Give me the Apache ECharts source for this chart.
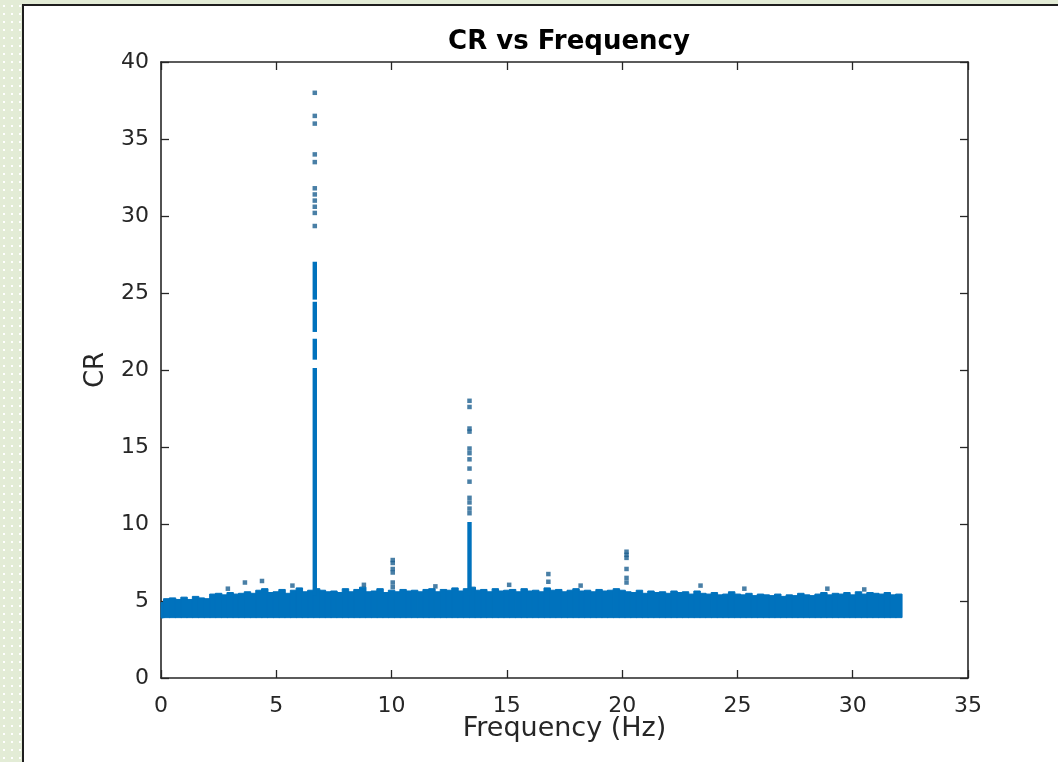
<!DOCTYPE html>
<html>
<head>
<meta charset="utf-8">
<script src="https://cdn.jsdelivr.net/npm/echarts@6/dist/echarts.min.js"></script>
<style>
  html, body { margin:0; padding:0; width:1058px; height:762px; overflow:hidden; }
  body {
    background-color:#e3ecd6;
    background-image: radial-gradient(circle, #ffffff 0.8px, transparent 1.2px);
    background-size: 8px 8px;
    background-position: 0 2px;
  }
  #panel { position:absolute; left:22px; top:4px; right:-4px; bottom:-4px; background:#ffffff; border-left:2px solid #1e1e1e; border-top:2px solid #1e1e1e; }
  #chart { position:absolute; left:0; top:0; width:1058px; height:762px; }
</style>
</head>
<body>
<div id="panel"></div>
<div id="chart"></div>
<script>
// ---- data ----
const xTicks = [0, 5, 10, 15, 20, 25, 30, 35];
const yTicks = [0, 5, 10, 15, 20, 25, 30, 35, 40];

// noise band: frequencies (Hz), upper envelope of CR, lower edge of CR
const bandFreq = [0.00,0.25,0.50,0.75,1.00,1.25,1.50,1.75,2.00,2.25,2.50,2.75,3.00,3.25,3.50,3.75,4.00,4.25,4.50,4.75,
  5.00,5.25,5.50,5.75,6.00,6.25,6.50,6.75,7.00,7.25,7.50,7.75,8.00,8.25,8.50,8.75,9.00,9.25,9.50,9.75,
  10.00,10.25,10.50,10.75,11.00,11.25,11.50,11.75,12.00,12.25,12.50,12.75,13.00,13.25,13.50,13.75,14.00,14.25,14.50,14.75,
  15.00,15.25,15.50,15.75,16.00,16.25,16.50,16.75,17.00,17.25,17.50,17.75,18.00,18.25,18.50,18.75,19.00,19.25,19.50,19.75,
  20.00,20.25,20.50,20.75,21.00,21.25,21.50,21.75,22.00,22.25,22.50,22.75,23.00,23.25,23.50,23.75,24.00,24.25,24.50,24.75,
  25.00,25.25,25.50,25.75,26.00,26.25,26.50,26.75,27.00,27.25,27.50,27.75,28.00,28.25,28.50,28.75,29.00,29.25,29.50,29.75,
  30.00,30.25,30.50,30.75,31.00,31.25,31.50,31.75,32.00];
const bandTop = [4.9,5.15,5.2,5.1,5.25,5.1,5.3,5.2,5.15,5.45,5.5,5.4,5.55,5.45,5.5,5.6,5.5,5.7,5.8,5.55,
  5.6,5.75,5.5,5.7,5.85,5.6,5.7,5.8,5.7,5.6,5.65,5.55,5.8,5.6,5.75,5.9,5.6,5.65,5.8,5.55,
  5.7,5.6,5.75,5.65,5.7,5.6,5.75,5.8,5.6,5.75,5.7,5.85,5.65,5.8,5.9,5.7,5.75,5.6,5.8,5.65,
  5.7,5.75,5.6,5.8,5.65,5.7,5.6,5.85,5.7,5.75,5.6,5.7,5.8,5.65,5.7,5.6,5.75,5.65,5.7,5.8,
  5.7,5.6,5.55,5.7,5.5,5.65,5.55,5.6,5.5,5.65,5.55,5.6,5.45,5.65,5.5,5.45,5.55,5.4,5.45,5.6,
  5.45,5.4,5.5,5.35,5.45,5.4,5.35,5.45,5.3,5.4,5.35,5.5,5.4,5.35,5.45,5.55,5.4,5.5,5.45,5.55,
  5.4,5.6,5.45,5.55,5.5,5.45,5.55,5.4,5.45];
const bandLow = 3.92;

// continuous vertical runs of points: [frequency, lowest CR, highest CR]
const peakRuns = [
  [6.67, 5.5, 20.0], [6.67, 20.8, 21.9], [6.67, 22.6, 24.3], [6.67, 24.7, 26.9],
  [13.38, 5.5, 10.0],
  [0.0, 4.0, 4.8]
];

// isolated points: [frequency, CR]
const peakPoints = [
  [6.67, 29.35], [6.67, 30.2], [6.67, 30.6], [6.67, 31.0], [6.67, 31.4], [6.67, 31.8],
  [6.67, 33.5], [6.67, 34.0], [6.67, 36.0], [6.67, 36.5], [6.67, 38.0],
  [13.38, 10.7], [13.38, 11.0], [13.38, 11.4], [13.38, 11.7], [13.38, 12.75], [13.38, 13.6],
  [13.38, 14.2], [13.38, 14.6], [13.38, 14.9], [13.38, 16.0], [13.38, 16.2], [13.38, 17.6], [13.38, 18.0],
  [10.05, 5.9], [10.05, 6.2], [10.05, 6.85], [10.05, 7.08], [10.05, 7.47], [10.05, 7.66],
  [20.19, 6.2], [20.19, 6.5], [20.19, 7.08], [20.19, 7.8], [20.19, 8.0], [20.19, 8.2],
  [16.8, 6.25], [16.8, 6.75],
  [3.64, 6.2], [4.38, 6.3], [2.9, 5.8], [5.7, 6.0], [8.8, 6.05], [11.9, 5.95], [15.1, 6.05],
  [18.2, 6.0], [23.4, 6.0], [25.3, 5.8], [28.9, 5.8], [30.5, 5.75]
];

const blue = '#0072BD';
const dotBlue = '#1c5f90';
const axisColor = '#262626';
const fontFamily = 'DejaVu Sans, sans-serif';

const chart = echarts.init(document.getElementById('chart'), null, { renderer: 'canvas' });

const axisCommon = {
  min: 0,
  interval: 5,
  axisLine: { show: true, onZero: false, lineStyle: { color: axisColor, width: 1.6 } },
  axisTick: { show: true, inside: true, length: 8, lineStyle: { color: axisColor, width: 1.3 } },
  splitLine: { show: false },
  axisLabel: { color: axisColor, fontFamily: fontFamily, fontSize: 22 }
};

chart.setOption({
  backgroundColor: 'transparent',
  animation: false,
  title: {
    text: 'CR vs Frequency',
    left: 564, top: 24, textAlign: 'center',
    textStyle: { fontFamily: fontFamily, fontWeight: 'bold', fontSize: 26, color: '#000000' }
  },
  grid: { left: 161, top: 62, right: 90, bottom: 84 },
  xAxis: [
    Object.assign({}, axisCommon, {
      type: 'value', max: 35, position: 'bottom',
      name: 'Frequency (Hz)', nameLocation: 'middle', nameGap: 37, nameMoveOverlap: false,
      nameTextStyle: { fontFamily: fontFamily, fontSize: 27, color: axisColor },
      axisLabel: Object.assign({}, axisCommon.axisLabel, { margin: 17, formatter: v => xTicks.includes(v) ? String(v) : '' })
    }),
    Object.assign({}, axisCommon, {
      type: 'value', max: 35, position: 'top', axisLabel: { show: false }
    })
  ],
  yAxis: [
    Object.assign({}, axisCommon, {
      type: 'value', max: 40, position: 'left',
      name: 'CR', nameLocation: 'middle', nameGap: 52, nameMoveOverlap: false,
      nameTextStyle: { fontFamily: fontFamily, fontSize: 26, color: axisColor },
      axisLabel: Object.assign({}, axisCommon.axisLabel, { margin: 12, formatter: v => yTicks.includes(v) ? String(v) : '' })
    }),
    Object.assign({}, axisCommon, {
      type: 'value', max: 40, position: 'right', axisLabel: { show: false }
    })
  ],
  series: [
    {
      type: 'custom',
      xAxisIndex: 0, yAxisIndex: 0,
      data: bandFreq.map((f, i) => [f, bandLow, bandTop[i]]),
      renderItem: function (params, api) {
        const f = api.value(0), lo = api.value(1), hi = api.value(2);
        const p1 = api.coord([Math.max(f - 0.14, 0), hi]);
        const p2 = api.coord([f + 0.14, lo]);
        return { type: 'rect', shape: { x: p1[0], y: p1[1], width: p2[0] - p1[0], height: p2[1] - p1[1] },
          style: { fill: blue, stroke: blue, lineWidth: 1 } };
      },
      silent: true
    },
    {
      type: 'custom',
      xAxisIndex: 0, yAxisIndex: 0,
      data: peakRuns,
      renderItem: function (params, api) {
        const f = api.value(0), lo = api.value(1), hi = api.value(2);
        const p1 = api.coord([f, hi]);
        const p2 = api.coord([f, lo]);
        const x0 = Math.max(p1[0] - 2.2, api.coord([0, 0])[0]);
        return { type: 'rect', shape: { x: x0, y: p1[1] - 2, width: p1[0] + 2.2 - x0, height: p2[1] - p1[1] + 4 },
          style: { fill: blue } };
      },
      silent: true
    },
    {
      type: 'scatter',
      xAxisIndex: 0, yAxisIndex: 0,
      data: peakPoints,
      symbol: 'rect',
      symbolSize: 4.5,
      itemStyle: { color: dotBlue },
      silent: true
    }
  ]
});
</script>
</body>
</html>
